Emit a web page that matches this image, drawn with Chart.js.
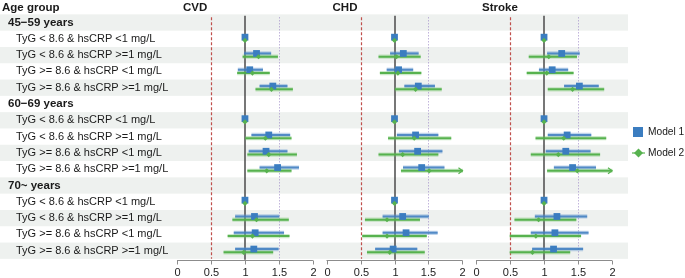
<!DOCTYPE html>
<html>
<head>
<meta charset="utf-8">
<script src="https://cdn.jsdelivr.net/npm/chart.js@4"></script>
<style>
  body { margin: 0; background: #fff; }
  #wrap { width: 685px; height: 278px; }
</style>
</head>
<body>
<div id="wrap"><canvas id="forest" width="685" height="278"></canvas></div>
<script>
// rows of the table
const groups = ["45\u221259 years", "60\u221269 years", "70~ years"];
const categories = [
    "TyG < 8.6 & hsCRP <1 mg/L",
    "TyG < 8.6 & hsCRP >=1 mg/L",
    "TyG >= 8.6 & hsCRP <1 mg/L",
    "TyG >= 8.6 & hsCRP >=1 mg/L"
];
const outcomes = ["CVD", "CHD", "Stroke"];
const tickValues = [0, 0.5, 1, 1.5, 2];
const tickLabels = ["0", "0.5", "1", "1.5", "2"];
const modelNames = ["Model 1", "Model 2"];

// hazard ratios, 3 age groups x 4 categories (first = reference)
const cvdM1 = [1, 1.17, 1.07, 1.41, 1, 1.35, 1.31, 1.48, 1, 1.14, 1.15, 1.13];
const cvdM1Lo = [null, 0.99, 0.90, 1.22, null, 1.10, 1.06, 1.22, null, 0.86, 0.84, 0.86];
const cvdM1Hi = [null, 1.38, 1.26, 1.62, null, 1.66, 1.62, 1.79, null, 1.50, 1.57, 1.49];
const cvdM2 = [1, 1.20, 1.11, 1.39, 1, 1.30, 1.35, 1.32, 1, 1.17, 1.11, 0.98];
const cvdM2Lo = [null, 0.97, 0.89, 1.16, null, 1.01, 1.04, 1.04, null, 0.82, 0.75, 0.69];
const cvdM2Hi = [null, 1.48, 1.36, 1.70, null, 1.68, 1.76, 1.68, null, 1.64, 1.65, 1.41];

const chdM1 = [1, 1.13, 1.06, 1.35, 1, 1.31, 1.34, 1.40, 1, 1.12, 1.17, 0.98];
const chdM1Lo = [null, 0.94, 0.89, 1.15, null, 1.04, 1.07, 1.13, null, 0.83, 0.83, 0.72];
const chdM1Hi = [null, 1.35, 1.27, 1.59, null, 1.64, 1.70, 1.73, null, 1.50, 1.63, 1.33];
const chdM2 = [1, 1.03, 1.05, 1.31, 1, 1.29, 1.12, 1.51, 1, 0.89, 0.89, 0.93];
const chdM2Lo = [null, 0.77, 0.79, 1.01, null, 0.91, 0.77, 1.10, null, 0.57, 0.53, 0.60];
const chdM2Hi = [null, 1.38, 1.39, 1.69, null, 1.83, 1.64, 2.0, null, 1.37, 1.47, 1.44];

const strokeM1 = [1, 1.26, 1.12, 1.52, 1, 1.34, 1.32, 1.42, 1, 1.19, 1.16, 1.14];
const strokeM1Lo = [null, 1.05, 0.93, 1.30, null, 1.06, 1.03, 1.15, null, 0.87, 0.81, 0.83];
const strokeM1Hi = [null, 1.52, 1.35, 1.80, null, 1.69, 1.68, 1.76, null, 1.63, 1.65, 1.57];
const strokeM2 = [1, 1.07, 1.04, 1.42, 1, 1.29, 1.21, 1.49, 1, 0.92, 0.88, 0.83];
const strokeM2Lo = [null, 0.78, 0.75, 1.06, null, 0.88, 0.81, 1.05, null, 0.57, 0.50, 0.50];
const strokeM2Hi = [null, 1.48, 1.43, 1.88, null, 1.91, 1.82, 2.0, null, 1.47, 1.54, 1.38];

const panels = [
    [[cvdM1, cvdM1Lo, cvdM1Hi], [cvdM2, cvdM2Lo, cvdM2Hi]],
    [[chdM1, chdM1Lo, chdM1Hi], [chdM2, chdM2Lo, chdM2Hi]],
    [[strokeM1, strokeM1Lo, strokeM1Hi], [strokeM2, strokeM2Lo, strokeM2Hi]]
];

const PANEL_STEP = 2.2;   // each panel sits on its own 0..2 stretch of one x scale
const BLUE = "#3b7dc0";
const GREEN = "#57b24f";
const CI_HALO = ["rgba(90,145,205,0.38)", "rgba(110,195,100,0.35)"];
const CI_CORE = ["rgba(62,125,192,0.85)", "rgba(80,175,72,0.95)"];
const FONT = "'Liberation Sans', Arial, Helvetica, sans-serif";
const TEXT = "#1a1a1a";

function rowOf(i) {
    return 2 + Math.floor(i / 4) * 5 + (i % 4);
}

let datasets = [];
panels.forEach((models, p) => {
    let off = p * PANEL_STEP;
    models.forEach((m, k) => {
        let dy = k === 0 ? -0.1 : 0.1;
        let ci = [];
        let pts = [];
        m[0].forEach((v, i) => {
            pts.push({ x: v + off, y: rowOf(i) + dy });
            if (m[1][i] != null) ci.push({ x: [m[1][i] + off, m[2][i] + off], y: rowOf(i) + dy });
        });
        // light halo + thin core for the interval
        datasets.push({
            type: "bar", indexAxis: "y", data: ci, grouped: false,
            barThickness: 3.6, backgroundColor: CI_HALO[k],
            borderWidth: 0, clip: false, order: 4 - 2 * k
        });
        datasets.push({
            type: "bar", indexAxis: "y", data: ci, grouped: false,
            barThickness: 1.4, backgroundColor: CI_CORE[k],
            borderWidth: 0, clip: false, order: 3 - 2 * k
        });
        datasets.push({
            type: "scatter",
            data: pts,
            pointStyle: k === 0 ? "rect" : "rectRot",
            radius: k === 0 ? 4.8 : 2.6,
            backgroundColor: k === 0 ? BLUE : GREEN,
            borderWidth: 0,
            clip: false,
            order: -k
        });
    });
});

const forestDecor = {
    id: "forestDecor",
    beforeDatasetsDraw(chart) {
        const ctx = chart.ctx;
        const x = chart.scales.x;
        const y = chart.scales.y;
        const half = Math.abs(y.getPixelForValue(1) - y.getPixelForValue(0)) / 2;
        ctx.save();

        // stripes
        ctx.fillStyle = "#eef1ef";
        for (let r = 1; r <= 15; r += 2) {
            let c = y.getPixelForValue(r);
            ctx.fillRect(0, c - half, 628, half * 2);
        }

        // labels
        ctx.fillStyle = TEXT;
        ctx.textBaseline = "middle";
        ctx.textAlign = "left";
        ctx.font = "bold 11.5px " + FONT;
        ctx.fillText("Age group", 2, 8);
        groups.forEach((g, gi) => {
            ctx.font = "bold 11.5px " + FONT;
            ctx.fillText(g, 8, y.getPixelForValue(1 + gi * 5));
            categories.forEach((c, ci) => {
                ctx.font = "11px " + FONT;
                ctx.fillText(c, 16, y.getPixelForValue(2 + gi * 5 + ci));
            });
        });

        const top = chart.chartArea.top;
        const bottom = chart.chartArea.bottom;
        outcomes.forEach((name, p) => {
            let off = p * PANEL_STEP;
            ctx.font = "bold 11.5px " + FONT;
            ctx.fillStyle = TEXT;
            ctx.fillText(name, x.getPixelForValue(off) + 6, 8);

            // reference lines
            let px = Math.round(x.getPixelForValue(off + 0.5)) + 0.5;
            ctx.strokeStyle = "#c0504d";
            ctx.lineWidth = 1.2;
            ctx.setLineDash([3, 2]);
            ctx.beginPath(); ctx.moveTo(px, top + 3); ctx.lineTo(px, bottom); ctx.stroke();

            px = Math.round(x.getPixelForValue(off + 1.5)) + 0.5;
            ctx.strokeStyle = "#a28fc9";
            ctx.lineWidth = 1;
            ctx.setLineDash([1, 2]);
            ctx.beginPath(); ctx.moveTo(px, top + 3); ctx.lineTo(px, bottom); ctx.stroke();

            px = Math.round(x.getPixelForValue(off + 1));
            ctx.strokeStyle = "#555";
            ctx.lineWidth = 1.6;
            ctx.setLineDash([]);
            ctx.beginPath(); ctx.moveTo(px, top + 1.5); ctx.lineTo(px, bottom + 1); ctx.stroke();

            // x axis
            let ay = Math.round(bottom) + 1.5;
            ctx.strokeStyle = "#8c8c8c";
            ctx.lineWidth = 1;
            ctx.beginPath();
            ctx.moveTo(x.getPixelForValue(off), ay);
            ctx.lineTo(x.getPixelForValue(off + 2), ay);
            ctx.stroke();
            ctx.font = "11px " + FONT;
            ctx.fillStyle = "#222";
            ctx.textAlign = "center";
            tickValues.forEach((t, ti) => {
                let tx = Math.round(x.getPixelForValue(off + t)) + 0.5;
                ctx.beginPath(); ctx.moveTo(tx, ay); ctx.lineTo(tx, ay + 4); ctx.stroke();
                ctx.fillText(tickLabels[ti], tx, ay + 12);
            });
            ctx.textAlign = "left";
        });
        ctx.restore();
    },
    afterDatasetsDraw(chart) {
        const ctx = chart.ctx;
        const x = chart.scales.x;
        const y = chart.scales.y;
        ctx.save();

        // arrow heads where the interval runs past 2
        panels.forEach((models, p) => {
            models.forEach((m, k) => {
                m[2].forEach((hi, i) => {
                    if (hi == null || hi < 2) return;
                    let ax = x.getPixelForValue(p * PANEL_STEP + 2);
                    let ay = y.getPixelForValue(rowOf(i) + (k === 0 ? -0.1 : 0.1));
                    ctx.strokeStyle = k === 0 ? BLUE : GREEN;
                    ctx.lineWidth = 1.2;
                    ctx.beginPath();
                    ctx.moveTo(ax - 4, ay - 3); ctx.lineTo(ax, ay); ctx.lineTo(ax - 4, ay + 3);
                    ctx.stroke();
                });
            });
        });

        // legend
        ctx.font = "10.2px " + FONT;
        ctx.textBaseline = "middle";
        ctx.textAlign = "left";
        let ly = [132, 153];
        ctx.fillStyle = BLUE;
        ctx.fillRect(633, ly[0] - 5, 10, 10);
        ctx.strokeStyle = GREEN;
        ctx.lineWidth = 1.2;
        ctx.beginPath(); ctx.moveTo(632, ly[1]); ctx.lineTo(645, ly[1]); ctx.stroke();
        ctx.fillStyle = GREEN;
        ctx.beginPath();
        ctx.moveTo(638.5, ly[1] - 4.5); ctx.lineTo(643, ly[1]); ctx.lineTo(638.5, ly[1] + 4.5); ctx.lineTo(634, ly[1]);
        ctx.closePath(); ctx.fill();
        ctx.fillStyle = TEXT;
        modelNames.forEach((n, i) => ctx.fillText(n, 648, ly[i]));
        ctx.restore();
    }
};

new Chart(document.getElementById("forest"), {
    type: "scatter",
    data: { datasets: datasets },
    options: {
        responsive: false,
        animation: false,
        events: [],
        layout: { padding: { left: 177, right: 73, top: 14.35, bottom: 19.15 } },
        plugins: { legend: { display: false }, tooltip: { enabled: false } },
        scales: {
            x: { type: "linear", display: false, min: 0, max: 2 * PANEL_STEP + 2, offset: false },
            y: { type: "linear", display: false, min: 0.5, max: 15.5, reverse: true, offset: false }
        }
    },
    plugins: [forestDecor]
});
</script>
</body>
</html>
